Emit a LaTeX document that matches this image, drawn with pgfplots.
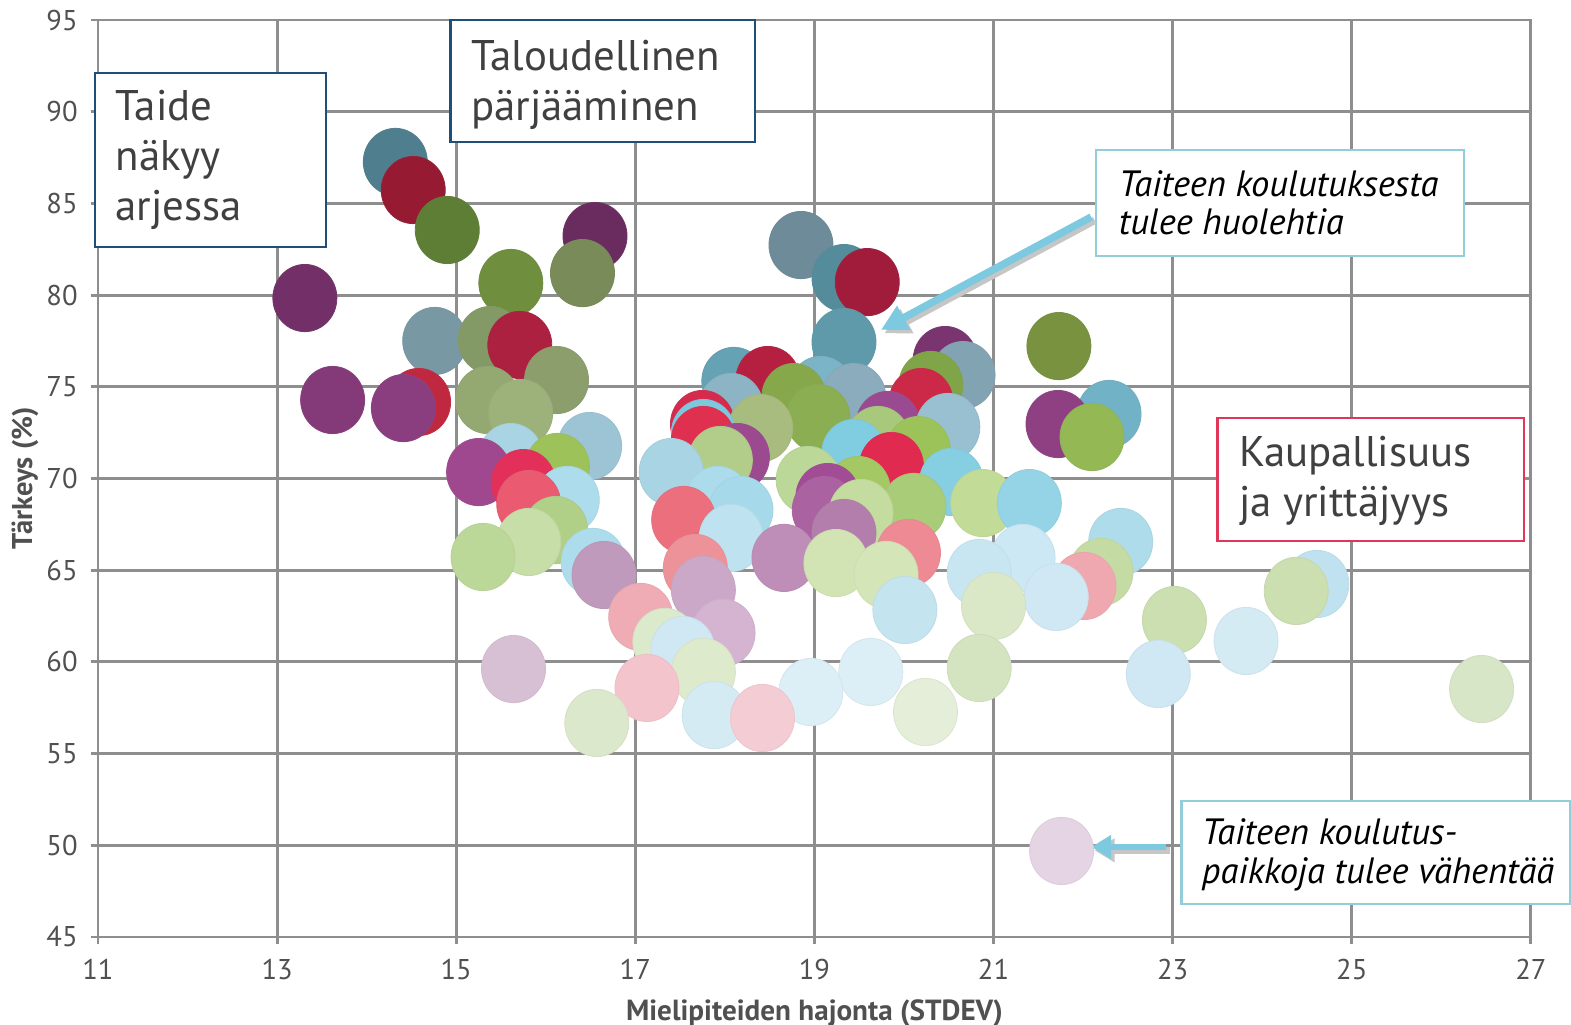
\documentclass[border=0pt]{standalone}
\usepackage{pgfplots}
\pgfplotsset{compat=1.18}
\usepackage{fontspec}
\setmainfont{PT Sans}
\usetikzlibrary{arrows.meta}
\definecolor{gridc}{HTML}{8E8E8E}
\definecolor{txt}{HTML}{404040}
\definecolor{lbl}{HTML}{505050}
\definecolor{navy}{HTML}{1F4E79}
\definecolor{lblue}{HTML}{92CDDC}
\definecolor{arrowc}{HTML}{7CC9E0}
\definecolor{crim}{HTML}{E0365A}
\begin{document}
\begin{tikzpicture}
\begin{axis}[name=ax, scale only axis, width=501.5pt, height=320.95pt,
  xmin=11, xmax=27, ymin=45, ymax=95,
  xtick={11,13,...,27}, ytick={45,50,...,95},
  xtick pos=left, ytick pos=left,
  grid=major, grid style={gridc, line width=1pt},
  axis line style={gridc, line width=1pt},
  tick style={gridc, line width=1pt},
  tick align=outside, major tick length=2.6pt,
  clip=false,
  /pgf/number format/assume math mode=true,
  ticklabel style={font=\fontsize{10}{11}\selectfont, text=lbl},
  yticklabel style={xshift=-1pt},
  xticklabel style={yshift=-1.5pt},
  xlabel={Mielipiteiden hajonta (STDEV)},
  ylabel={Tärkeys (\%)},
  every axis x label/.style={at={(axis description cs:0.5,-0.083)}, anchor=center, font=\bfseries\fontsize{10.2}{11}\selectfont, text=lbl},
  every axis y label/.style={at={(axis description cs:-0.051,0.5)}, rotate=90, anchor=center, font=\bfseries\fontsize{10}{11}\selectfont, text=lbl},
]
\addplot[only marks, scatter, mark=*, mark size=11.2pt,
  mark options={yscale=1.05},
  point meta=explicit symbolic,
  scatter/@pre marker code/.code={%
    \edef\tmpc{\noexpand\definecolor{mc}{HTML}{\pgfplotspointmeta}}\tmpc
    \scope[fill=mc, draw=mc!92!gray, line width=0.3pt]},
  scatter/@post marker code/.code={\endscope},
] table[x=x, y=y, meta=c] {
x y c
14.32 87.26 4F7F8E
14.52 85.73 971A33
14.90 83.55 5E7E35
16.55 83.22 6A2B5F
18.85 82.73 6D8B99
16.41 81.20 788B58
19.33 80.93 548C9C
19.59 80.71 A01C3A
15.61 80.66 6F8E3E
13.31 79.84 733068
14.76 77.50 7898A4
15.38 77.55 849A66
19.33 77.44 5E9AAA
15.71 77.28 AC2040
21.73 77.22 78923F
20.46 76.46 7A3470
20.66 75.64 82A4B2
16.12 75.37 8C9E6C
18.10 75.32 64A2B4
18.48 75.37 B52040
20.30 75.10 80A448
19.07 74.83 7AB4C6
18.77 74.44 86A84A
19.44 74.44 8AACBC
15.35 74.28 94A872
13.62 74.28 843A78
14.58 74.17 C02840
20.19 74.17 CC2848
18.07 73.90 8CB4C4
14.41 73.84 8A3E80
15.72 73.57 9CB27A
22.29 73.52 72B2C6
19.04 73.30 8CAE52
21.72 72.97 8E4082
17.75 72.97 D62A4E
19.82 72.92 9A4A90
20.49 72.81 98C0D0
18.40 72.75 A8BC80
17.76 72.48 7CC8DC
17.76 72.10 E03050
22.10 72.26 94B854
19.71 72.10 A8C87C
16.49 71.77 9CC4D4
20.16 71.55 9CC25A
19.44 71.39 80CCE0
15.61 71.17 A8D4E4
18.14 71.17 9C4A90
17.95 71.01 B2CC8A
19.86 70.68 E02A50
16.13 70.63 9DC25A
15.25 70.35 A0488F
17.40 70.35 A8D4E4
18.93 69.92 BCD898
20.53 69.81 86CEE2
15.75 69.75 E2305A
19.49 69.37 A4C864
19.15 68.99 A24C96
17.92 68.83 ACDCEC
16.24 68.83 ADDCEC
20.88 68.66 C2DC98
21.40 68.66 94D4E6
15.81 68.61 EA5A70
20.11 68.45 A8CC78
18.18 68.28 A6DAEA
19.11 68.28 AA62A0
19.52 68.12 C4DCA0
17.54 67.74 EC6F7E
16.11 67.19 B0D088
19.33 67.03 B47EAC
18.07 66.76 BEE2F0
15.81 66.54 C8DEA8
22.42 66.54 AEDCEA
20.05 65.94 EE8A94
15.30 65.72 BCD898
21.33 65.67 CCE8F4
18.66 65.67 BE8EB8
16.53 65.45 ADDDEC
19.24 65.39 D2E4B4
17.67 65.12 EE929A
22.20 64.90 C4DCA4
20.84 64.85 C8E6F2
16.65 64.74 C09ABC
19.80 64.74 D4E6B8
24.61 64.25 C0E2F0
22.01 64.14 F0A8B0
17.76 63.92 CCA8C8
24.38 63.87 CCDFB0
21.70 63.54 D0E8F4
21.00 63.05 DAE8C8
20.01 62.83 C4E4F0
17.06 62.45 F0ACB4
23.02 62.28 CCDFB0
17.98 61.58 D4B4D0
23.82 61.14 D4EBF4
17.33 61.09 DCEACC
17.53 60.65 D0E8F4
20.84 59.67 D4E4C0
15.64 59.61 D8C0D4
19.63 59.45 DCEEF6
17.76 59.45 DDEBCC
22.84 59.34 D0E8F4
17.13 58.58 F4C4CC
26.45 58.52 D8E6C8
18.96 58.36 DCEEF6
20.24 57.27 E4EED8
17.88 57.10 D4EBF4
18.42 56.94 F4CCD4
16.57 56.67 DCE8CC
21.76 49.69 E4D4E4
};
% text boxes
\draw[navy, line width=0.8pt, fill=white] (axis cs:10.966,92.11) rectangle (axis cs:13.549,82.62);
\node[anchor=west, align=left, text=txt, font=\fontsize{15}{17.5}\selectfont, inner sep=0pt] at (axis cs:11.19,87.37) {Taide\\näkyy\\arjessa};
\draw[navy, line width=0.8pt, fill=white] (axis cs:14.936,95) rectangle (axis cs:18.335,88.35);
\node[anchor=west, align=left, text=txt, font=\fontsize{15}{17.5}\selectfont, inner sep=0pt] at (axis cs:15.159,91.46) {Taloudellinen\\pärjääminen};
\draw[lblue, line width=0.8pt, fill=white] (axis cs:22.147,87.91) rectangle (axis cs:26.250,82.13);
\node[anchor=west, align=left, text=black, font=\itshape\fontsize{12.8}{13.2}\selectfont, inner sep=0pt] at (axis cs:22.393,85.02) {Taiteen koulutuksesta\\tulee huolehtia};
\draw[crim, line width=0.8pt, fill=white] (axis cs:23.500,73.30) rectangle (axis cs:26.921,66.59);
\node[anchor=west, align=left, text=txt, font=\fontsize{15}{17.5}\selectfont, inner sep=0pt] at (axis cs:23.735,69.86) {Kaupallisuus\\ja yrittäjyys};
\draw[lblue, line width=0.8pt, fill=white] (axis cs:23.098,52.42) rectangle (axis cs:27.436,46.80);
\node[anchor=west, align=left, text=black, font=\itshape\fontsize{12.8}{13.8}\selectfont, inner sep=0pt] at (axis cs:23.321,49.47) {Taiteen koulutus-\\paikkoja tulee vähentää};
% arrows
\draw[gray!45, line width=2.6pt, -{Triangle[length=9pt,width=9pt]}, transform canvas={xshift=1.2pt,yshift=-1.2pt}] (axis cs:22.091,84.26) -- (axis cs:19.743,78.10);
\draw[arrowc, line width=2.6pt, -{Triangle[length=9pt,width=9pt]}] (axis cs:22.091,84.26) -- (axis cs:19.743,78.10);
\draw[gray!45, line width=2.2pt, -{Triangle[length=7pt,width=8pt]}, transform canvas={xshift=1.2pt,yshift=-1.2pt}] (axis cs:22.930,49.91) -- (axis cs:22.091,49.91);
\draw[arrowc, line width=2.2pt, -{Triangle[length=7pt,width=8pt]}] (axis cs:22.930,49.91) -- (axis cs:22.091,49.91);
\end{axis}
\pgfresetboundingbox
\path ([shift={(-34.3pt,-30.8pt)}]ax.south west) rectangle ([shift={(515.55pt,327.95pt)}]ax.south west);
\end{tikzpicture}
\end{document}
